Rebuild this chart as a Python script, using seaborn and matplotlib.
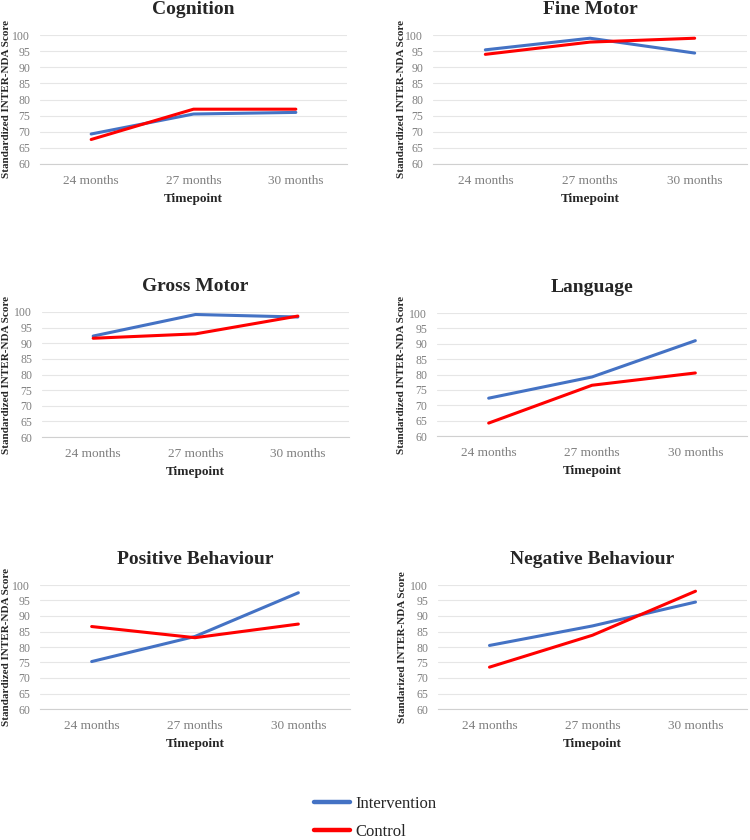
import matplotlib
matplotlib.use("Agg")
import matplotlib.pyplot as plt
import pandas as pd
import seaborn as sns

sns.set_style("white")
plt.rcParams['font.family'] = ['Liberation Serif', 'DejaVu Serif']

timepoints = ['24 months', '27 months', '30 months']
groups = ['Intervention', 'Control']
colors = {'Intervention': '#4472C4', 'Control': '#FF0000'}

titles = ['Cognition', 'Fine Motor', 'Gross Motor',
          'Language', 'Positive Behaviour', 'Negative Behaviour']

intervention = [
    [69.3, 75.5, 76.0],
    [95.4, 99.0, 94.4],
    [92.3, 99.2, 98.4],
    [72.3, 79.2, 91.0],
    [75.3, 83.4, 97.5],
    [80.5, 86.8, 94.5],
]
control = [
    [67.6, 77.0, 77.0],
    [94.0, 97.8, 99.0],
    [91.6, 93.0, 98.7],
    [64.2, 76.5, 80.5],
    [86.6, 83.0, 87.4],
    [73.5, 83.8, 98.0],
]

y_labels = ['Standardized INTER-NDA Score'] * 5 + ['Standarized INTER-NDA Score']

W, H = 750, 840
# axes boxes in pixels: (left, top, right, bottom)
boxes_px = [
    (40, 35, 347, 164),
    (433, 35, 747, 164),
    (42, 312, 349, 437),
    (437, 313, 747, 436),
    (40, 585, 350, 709),
    (438, 585, 747, 709),
]
# x pixel where the y label's right edge sits
ylabel_px = [11, 406, 11, 406, 11, 407]

fig = plt.figure(figsize=(W / 100, H / 100), dpi=100)

for i, title in enumerate(titles):
    l, t, r, b = boxes_px[i]
    ax = fig.add_axes([l / W, 1 - b / H, (r - l) / W, (b - t) / H])
    rows = []
    for g, vals in zip(groups, [intervention[i], control[i]]):
        for tp, v in zip(timepoints, vals):
            rows.append({'Timepoint': tp, 'Score': v, 'Group': g})
    df = pd.DataFrame(rows)
    sns.lineplot(data=df, x='Timepoint', y='Score', hue='Group',
                 hue_order=groups, palette=colors, sort=False,
                 linewidth=2.2, ax=ax, legend=(i == 0))
    ax.set_xlim(-0.5, 2.5)
    ax.set_ylim(60, 100)
    ax.set_yticks(range(60, 101, 5))
    ax.grid(axis='y', color='#E6E6E6', linewidth=0.8)
    ax.set_axisbelow(True)
    for s in ['top', 'right', 'left']:
        ax.spines[s].set_visible(False)
    ax.spines['bottom'].set_color('#D0D0D0')
    ax.tick_params(axis='both', length=0, labelcolor='#7F7F7F')
    ax.tick_params(axis='y', labelsize=8.5, pad=7)
    ax.tick_params(axis='x', labelsize=9.5, pad=8)
    ax.set_title(title, fontsize=14, fontweight='bold', pad=15)
    ax.set_xlabel('Timepoint', fontsize=9.5, fontweight='bold', labelpad=4)
    ax.set_ylabel(y_labels[i], fontsize=8, fontweight='bold')
    ax.yaxis.set_label_coords((ylabel_px[i] - l) / (r - l), 0.5)
    if i == 0:
        handles, labels = ax.get_legend_handles_labels()
        ax.get_legend().remove()

leg = fig.legend(handles, labels, loc='center', bbox_to_anchor=(0.5, 1 - 818 / H),
                 frameon=False, fontsize=12, handlelength=2.2,
                 handletextpad=0.3, labelspacing=0.7)
for line in leg.get_lines():
    line.set_linewidth(3.2)

fig.savefig('out.png', dpi=100)
